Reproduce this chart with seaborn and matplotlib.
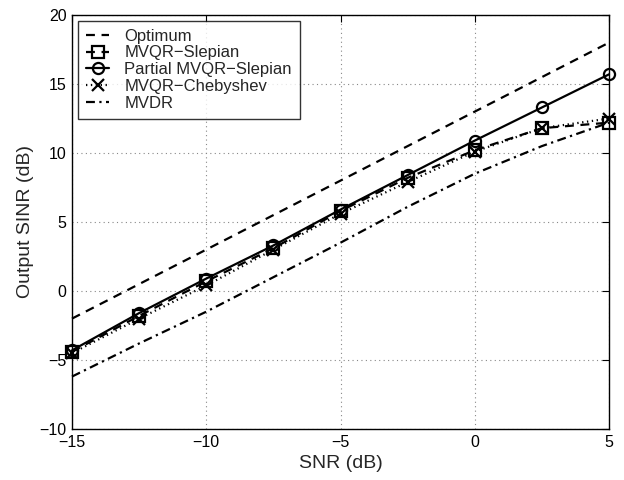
"""Output SINR versus input SNR for several beamformers."""
import matplotlib
matplotlib.use("Agg")
import matplotlib.pyplot as plt
import pandas as pd
import seaborn as sns

snr_db = [-15, -12.5, -10, -7.5, -5, -2.5, 0, 2.5, 5]

optimum = [-2, 0.5, 3, 5.5, 8, 10.5, 13, 15.5, 18]
mvqr_slepian = [-4.4, -1.8, 0.7, 3.1, 5.8, 8.2, 10.2, 11.8, 12.2]
partial_slepian = [-4.3, -1.6, 0.9, 3.3, 5.9, 8.4, 10.9, 13.3, 15.7]
mvqr_chebyshev = [-4.5, -2.0, 0.4, 3.0, 5.6, 7.9, 10.1, 11.8, 12.5]
mvdr = [-6.2, -3.8, -1.5, 1.0, 3.5, 6.1, 8.5, 10.5, 12.2]

series_names = ["Optimum", "MVQR\u2212Slepian", "Partial MVQR\u2212Slepian",
                "MVQR\u2212Chebyshev", "MVDR"]
series_values = [optimum, mvqr_slepian, partial_slepian, mvqr_chebyshev, mvdr]

sns.set_style("white")
plt.rcParams["font.family"] = ["Liberation Sans", "DejaVu Sans"]
plt.rcParams["axes.unicode_minus"] = True

styles = {
    "Optimum": dict(linestyle=(0, (4, 3)), marker=None),
    "MVQR\u2212Slepian": dict(linestyle=(0, (4, 3)), marker="s"),
    "Partial MVQR\u2212Slepian": dict(linestyle="-", marker="o"),
    "MVQR\u2212Chebyshev": dict(linestyle=(0, (0.6, 1.6)), marker="x"),
    "MVDR": dict(linestyle=(0, (4, 2, 1, 2)), marker=None),
}

fig = plt.figure(figsize=(6.24, 4.8), dpi=100)
ax = fig.add_axes([0.1154, 0.10625, 0.8606, 0.8625])

for name, values in zip(series_names, series_values):
    df = pd.DataFrame({"snr": snr_db, "sinr": values})
    st = styles[name]
    sns.lineplot(
        data=df, x="snr", y="sinr", ax=ax, color="black", linewidth=1.6,
        linestyle=st["linestyle"], marker=st["marker"], markersize=8,
        markerfacecolor="none" if st["marker"] in ("s", "o") else "black",
        markeredgecolor="black", markeredgewidth=1.6, label=name,
        clip_on=False,
    )

ax.set_xlim(-15, 5)
ax.set_ylim(-10, 20)
ax.set_xticks([-15, -10, -5, 0, 5])
ax.set_yticks([-10, -5, 0, 5, 10, 15, 20])
ax.grid(True, linestyle=(0, (1, 3)), color="#888888", linewidth=0.8)
ax.tick_params(direction="in", top=True, right=True, length=5, labelsize=11.5,
               colors="black", pad=4)
for spine in ax.spines.values():
    spine.set_color("black")
    spine.set_linewidth(1.0)
ax.set_xlabel("SNR (dB)", fontsize=14, labelpad=4)
ax.set_ylabel("Output SINR (dB)", fontsize=14, labelpad=4)

leg = ax.legend(loc="upper left", fontsize=12, handlelength=1.4, frameon=True,
                fancybox=False, borderaxespad=0.33, labelspacing=0.1,
                handletextpad=0.9, borderpad=0.5)
leg.get_frame().set_edgecolor("black")
leg.get_frame().set_linewidth(1.0)

fig.savefig("out.png", dpi=100)
